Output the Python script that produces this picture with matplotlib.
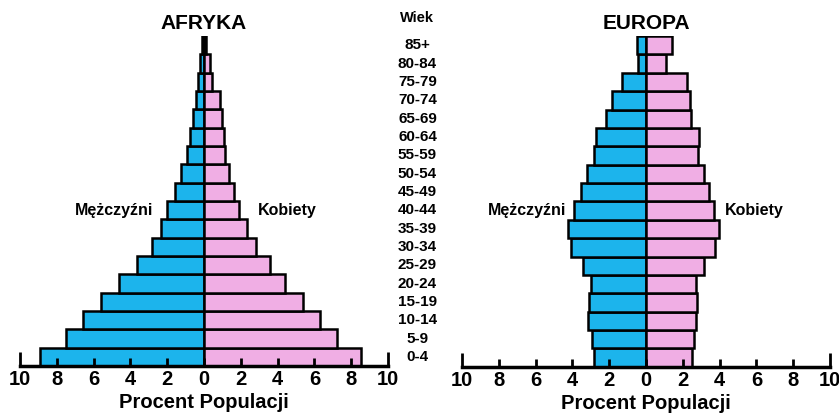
import numpy as np
import matplotlib
matplotlib.use("Agg")
import matplotlib.pyplot as plt

plt.rcParams['font.family'] = ['Liberation Sans', 'DejaVu Sans']
plt.rcParams['font.weight'] = 'bold'

# age groups from youngest to oldest
ages = ["0-4", "5-9", "10-14", "15-19", "20-24", "25-29", "30-34", "35-39",
        "40-44", "45-49", "50-54", "55-59", "60-64", "65-69", "70-74",
        "75-79", "80-84", "85+"]

# percent of population
afryka_m = [8.9, 7.5, 6.6, 5.6, 4.6, 3.65, 2.8, 2.35, 2.0, 1.55, 1.25, 0.95,
            0.75, 0.6, 0.45, 0.3, 0.2, 0.1]
afryka_k = [8.55, 7.25, 6.3, 5.4, 4.4, 3.6, 2.8, 2.35, 1.9, 1.65, 1.35, 1.15,
            1.1, 1.0, 0.85, 0.45, 0.3, 0.1]
europa_m = [2.83, 2.92, 3.13, 3.1, 2.97, 3.42, 4.1, 4.22, 3.9, 3.55, 3.19,
            2.83, 2.74, 2.19, 1.83, 1.29, 0.43, 0.5]
europa_k = [2.48, 2.6, 2.7, 2.79, 2.7, 3.15, 3.75, 3.97, 3.7, 3.42, 3.15,
            2.84, 2.88, 2.43, 2.37, 2.25, 1.07, 1.43]

ticks = [-10, -8, -6, -4, -2, 0, 2, 4, 6, 8, 10]
tick_labels = [str(abs(t)) for t in ticks]

blue = "#1cb4ec"
pink = "#f0aee4"

fig = plt.figure(figsize=(8.39, 4.15), dpi=100)
ax1 = fig.add_axes([0.0238, 0.118, 0.4387, 0.795])
ax2 = fig.add_axes([0.5507, 0.116, 0.4387, 0.797])

y = np.arange(len(ages))


def pyramid(ax, men, women, title):
    ax.barh(y, -np.array(men), height=1.0, color=blue, edgecolor="black",
            linewidth=1.8)
    ax.barh(y, women, height=1.0, color=pink, edgecolor="black",
            linewidth=1.8)
    ax.set_xlim(-10, 10)
    ax.set_ylim(-0.5, len(ages) - 0.5)
    for s in ["top", "left", "right"]:
        ax.spines[s].set_visible(False)
    ax.spines["bottom"].set_linewidth(2.5)
    ax.set_yticks([])
    ax.set_xticks(ticks)
    ax.set_xticklabels(tick_labels, fontsize=14.5, fontweight="bold")
    ax.tick_params(axis="x", direction="in", length=6, width=2, pad=3)
    for i in (0, -1):
        ax.xaxis.get_major_ticks()[i].tick1line.set_markersize(10)
    ax.set_xlabel("Procent Populacji", fontsize=14.5, fontweight="bold",
                  labelpad=3)
    ax.text(0, 1.01, title, transform=ax.get_xaxis_transform(),
            ha="center", va="bottom", fontsize=15, fontweight="bold")


pyramid(ax1, afryka_m, afryka_k, "AFRYKA")
pyramid(ax2, europa_m, europa_k, "EUROPA")

ax1.text(-4.9, 8, "Mężczyźni", ha="center", va="center", fontsize=11.5,
         fontweight="bold")
ax1.text(4.5, 8, "Kobiety", ha="center", va="center", fontsize=11.5,
         fontweight="bold")
ax2.text(-6.45, 8, "Mężczyźni", ha="center", va="center", fontsize=11.5,
         fontweight="bold")
ax2.text(5.9, 8, "Kobiety", ha="center", va="center", fontsize=11.5,
         fontweight="bold")

# age labels in the middle column
for i, a in enumerate(ages):
    ax1.text(11.6, i, a, ha="center", va="center", fontsize=11,
             fontweight="bold", clip_on=False)
ax1.text(11.6, len(ages) + 0.1, "Wiek", ha="center", va="bottom",
         fontsize=10.5, fontweight="bold", clip_on=False)

fig.savefig("out.png", dpi=100)
